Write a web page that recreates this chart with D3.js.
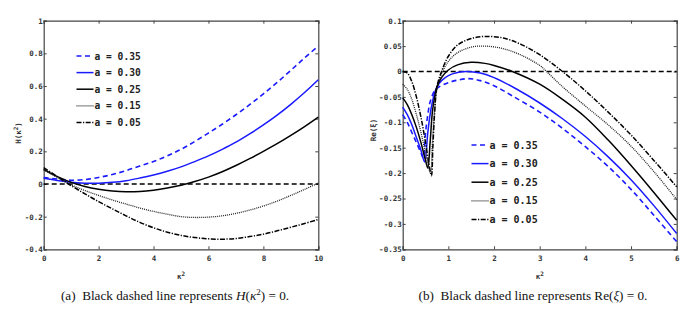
<!DOCTYPE html>
<html><head><meta charset="utf-8">
<script src="https://cdn.jsdelivr.net/npm/d3@7"></script>
<style>
body{margin:0;background:#fff;}
svg{display:block;}
.tick text{font-family:"DejaVu Sans Mono",monospace;font-weight:bold;font-size:7.5px;fill:#333;}
</style></head>
<body>
<svg id="c" width="696" height="321"></svg>
<script>
// ---------- Data ----------
const seriesNames = ["a = 0.35","a = 0.30","a = 0.25","a = 0.15","a = 0.05"];
// Panel (a): H(kappa^2)
const kA = [0,0.5,1,1.5,2,2.5,3,3.5,4,4.5,5,5.5,6,6.5,7,7.5,8,8.5,9,9.5,10];
const hA035 = [0.04,0.03,0.023,0.027,0.04,0.058,0.082,0.11,0.138,0.172,0.212,0.26,0.312,0.366,0.424,0.486,0.552,0.622,0.696,0.772,0.845];
const hA030 = [0.035,0.022,0.01,0.005,0.005,0.01,0.02,0.036,0.055,0.078,0.105,0.137,0.172,0.212,0.256,0.307,0.362,0.422,0.488,0.56,0.638];
const hA025 = [0.09,0.045,0.01,-0.015,-0.032,-0.043,-0.048,-0.046,-0.038,-0.025,-0.008,0.015,0.042,0.075,0.113,0.155,0.2,0.247,0.298,0.352,0.41];
const hA015 = [0.085,0.04,-0.005,-0.04,-0.07,-0.098,-0.123,-0.147,-0.168,-0.185,-0.2,-0.205,-0.203,-0.195,-0.18,-0.16,-0.135,-0.105,-0.07,-0.033,0.005];
const hA005 = [0.1,0.045,-0.01,-0.06,-0.108,-0.152,-0.195,-0.235,-0.268,-0.295,-0.315,-0.328,-0.336,-0.338,-0.334,-0.322,-0.307,-0.287,-0.265,-0.242,-0.217];
const xTicksA = [0,2,4,6,8,10];
const yTicksA = [-0.4,-0.2,0,0.2,0.4,0.6,0.8,1];

// Panel (b): Re(xi)
const kB035 = [0,0.1,0.2,0.3,0.4,0.45,0.5,0.55,0.6,0.7,0.8,1.0,1.2,1.45,1.7,2.0,2.4,3.0,3.5,4.0,4.5,5.0,5.5,6.0];
const rB035 = [-0.085,-0.1,-0.12,-0.14,-0.16,-0.17,-0.12,-0.085,-0.06,-0.038,-0.03,-0.022,-0.017,-0.014,-0.018,-0.028,-0.048,-0.08,-0.112,-0.148,-0.187,-0.232,-0.283,-0.335];
const kB030 = [0,0.1,0.2,0.3,0.4,0.48,0.55,0.6,0.65,0.7,0.75,0.85,1.0,1.2,1.4,1.7,2.0,2.5,3.0,3.5,4.0,4.5,5.0,5.5,6.0];
const rB030 = [-0.07,-0.085,-0.105,-0.13,-0.155,-0.178,-0.12,-0.085,-0.06,-0.042,-0.03,-0.018,-0.008,-0.002,0.0,-0.003,-0.012,-0.035,-0.062,-0.093,-0.128,-0.168,-0.213,-0.264,-0.319];
const kB025 = [0,0.1,0.2,0.3,0.4,0.5,0.55,0.6,0.65,0.7,0.75,0.85,1.0,1.2,1.5,1.8,2.0,2.4,3.0,3.5,4.0,4.5,5.0,5.5,6.0];
const rB025 = [-0.052,-0.065,-0.085,-0.11,-0.14,-0.175,-0.19,-0.14,-0.08,-0.05,-0.03,-0.012,0.003,0.013,0.018,0.016,0.012,0.0,-0.025,-0.055,-0.09,-0.135,-0.185,-0.238,-0.293];
const kB015 = [0,0.1,0.2,0.3,0.4,0.5,0.61,0.65,0.7,0.75,0.85,1.0,1.2,1.5,1.8,2.2,2.6,3.0,3.15,3.5,4.0,4.5,5.0,5.5,6.0];
const rB015 = [-0.025,-0.035,-0.055,-0.085,-0.12,-0.16,-0.2,-0.14,-0.075,-0.035,-0.005,0.02,0.037,0.048,0.05,0.045,0.032,0.012,0.0,-0.03,-0.068,-0.105,-0.147,-0.197,-0.252];
const kB005 = [0,0.1,0.2,0.3,0.4,0.5,0.58,0.63,0.66,0.7,0.75,0.85,1.0,1.2,1.5,1.8,2.2,2.6,3.0,3.5,4.0,4.5,5.0,5.5,6.0];
const rB005 = [0,-0.003,-0.02,-0.05,-0.09,-0.14,-0.185,-0.205,-0.15,-0.08,-0.03,0.0,0.03,0.052,0.065,0.069,0.066,0.053,0.033,0.0,-0.038,-0.08,-0.125,-0.175,-0.227];
const xTicksB = [0,1,2,3,4,5,6];
const yTicksB = [-0.35,-0.3,-0.25,-0.2,-0.15,-0.1,-0.05,0,0.05,0.1];

// ---------- Styles ----------
const styles = [
  {color:"#1a1aff", width:1.6, dash:"5,3.5"},
  {color:"#1a1aff", width:1.5, dash:null},
  {color:"#000",    width:1.5, dash:null},
  {color:"#222",    width:1.3, dash:"1,1"},
  {color:"#000",    width:1.5, dash:"5,1.5,1.2,1.5"}
];

const svg = d3.select("#c");
const zip = (ks, vs) => ks.map((k,i)=>[k, vs[i]]);

function panel(opt){
  const x = d3.scaleLinear().domain(opt.xd).range([opt.x0, opt.x1]);
  const y = d3.scaleLinear().domain(opt.yd).range([249.3, 20.7]);
  const g = svg.append("g");
  const fmt = d => String(d);
  const ax = [
    {a:d3.axisBottom(x).tickValues(opt.xt).tickFormat(fmt).tickSize(-3).tickPadding(6), t:`translate(0,${y.range()[0]})`},
    {a:d3.axisTop(x).tickValues(opt.xt).tickFormat("").tickSize(-3), t:`translate(0,${y.range()[1]})`},
    {a:d3.axisLeft(y).tickValues(opt.yt).tickFormat(fmt).tickSize(-3).tickPadding(1), t:`translate(${opt.x0},0)`},
    {a:d3.axisRight(y).tickValues(opt.yt).tickFormat("").tickSize(-3), t:`translate(${opt.x1},0)`}
  ];
  ax.forEach(o=>{
    const s = g.append("g").attr("transform", o.t).call(o.a);
    s.select(".domain").attr("stroke","#444").attr("stroke-width",1.2);
    s.selectAll(".tick line").attr("stroke","#444").attr("stroke-width",1);
  });
  g.append("line").attr("x1",x(opt.xd[0])).attr("x2",x(opt.xd[1]))
    .attr("y1",y(0)).attr("y2",y(0)).attr("stroke","#000").attr("stroke-width",1.5)
    .attr("stroke-dasharray","5,3");
  const line = d3.line().x(d=>x(d[0])).y(d=>y(d[1])).curve(d3.curveCatmullRom.alpha(0.5));
  opt.series.forEach((pts,i)=>{
    const st = styles[i];
    g.append("path").datum(pts).attr("d",line).attr("fill","none")
      .attr("stroke",st.color).attr("stroke-width",st.width)
      .attr("stroke-dasharray",st.dash);
  });
  seriesNames.forEach((n,i)=>{
    const st = styles[i];
    const ly = opt.ly + i*opt.lsp;
    g.append("line").attr("x1",opt.lx).attr("x2",opt.lx+opt.llen).attr("y1",ly).attr("y2",ly)
      .attr("stroke",st.color).attr("stroke-width",st.width).attr("stroke-dasharray",st.dash);
    g.append("text").attr("x",opt.lx+opt.llen+1).attr("y",ly+3.5).text(n)
      .attr("font-family","DejaVu Sans Mono, monospace").attr("font-size",opt.lfs).attr("font-weight","bold").attr("fill","#222");
  });
  const yl = g.append("text").attr("transform",`translate(${opt.ylx},${opt.yly}) rotate(-90)`)
    .attr("text-anchor","middle").attr("font-family","DejaVu Sans Mono, monospace")
    .attr("font-size",7.5).attr("font-weight","bold").attr("fill","#333");
  opt.ylab(yl);
  const xl = g.append("text").attr("x",(opt.x0+opt.x1)/2).attr("y",279)
    .attr("text-anchor","middle").attr("font-family","DejaVu Sans Mono, monospace")
    .attr("font-size",7.5).attr("font-weight","bold").attr("fill","#333");
  xl.append("tspan").text("κ");
  xl.append("tspan").attr("dy",-3.5).attr("font-size",6).text("2");
  const cap = g.append("text").attr("x",opt.cx).attr("y",300).attr("text-anchor","middle")
    .attr("font-family","Liberation Serif, Times New Roman, serif").attr("font-size",13.2).attr("fill","#111");
  opt.cap(cap);
}

panel({
  xd:[0,10], yd:[-0.4,1], x0:43.7, x1:318.3, xt:xTicksA, yt:yTicksA,
  series:[zip(kA,hA035),zip(kA,hA030),zip(kA,hA025),zip(kA,hA015),zip(kA,hA005)],
  lx:76.5, ly:56, lsp:16.6, llen:17, lfs:9.6,
  ylx:21, yly:133,
  ylab: t=>{ t.append("tspan").text("H(κ"); t.append("tspan").attr("dy",-3).attr("font-size",6).text("2"); t.append("tspan").attr("dy",3).text(")"); },
  cx:175,
  cap: t=>{ t.append("tspan").text("(a)\u2002Black dashed line represents ");
            t.append("tspan").attr("font-style","italic").text("H");
            t.append("tspan").text("(");
            t.append("tspan").attr("font-style","italic").text("κ");
            t.append("tspan").attr("dy",-5).attr("font-size",9).text("2");
            t.append("tspan").attr("dy",5).text(") = 0."); }
});

panel({
  xd:[0,6], yd:[-0.35,0.1], x0:402.7, x1:676.7, xt:xTicksB, yt:yTicksB,
  series:[zip(kB035,rB035),zip(kB030,rB030),zip(kB025,rB025),zip(kB015,rB015),zip(kB005,rB005)],
  lx:471.5, ly:145, lsp:18.6, llen:17, lfs:10,
  ylx:376, yly:130,
  ylab: t=>{ t.append("tspan").text("Re(ξ)"); },
  cx:533,
  cap: t=>{ t.append("tspan").text("(b)\u2002Black dashed line represents Re(");
            t.append("tspan").attr("font-style","italic").text("ξ");
            t.append("tspan").text(") = 0."); }
});
</script>
</body></html>
